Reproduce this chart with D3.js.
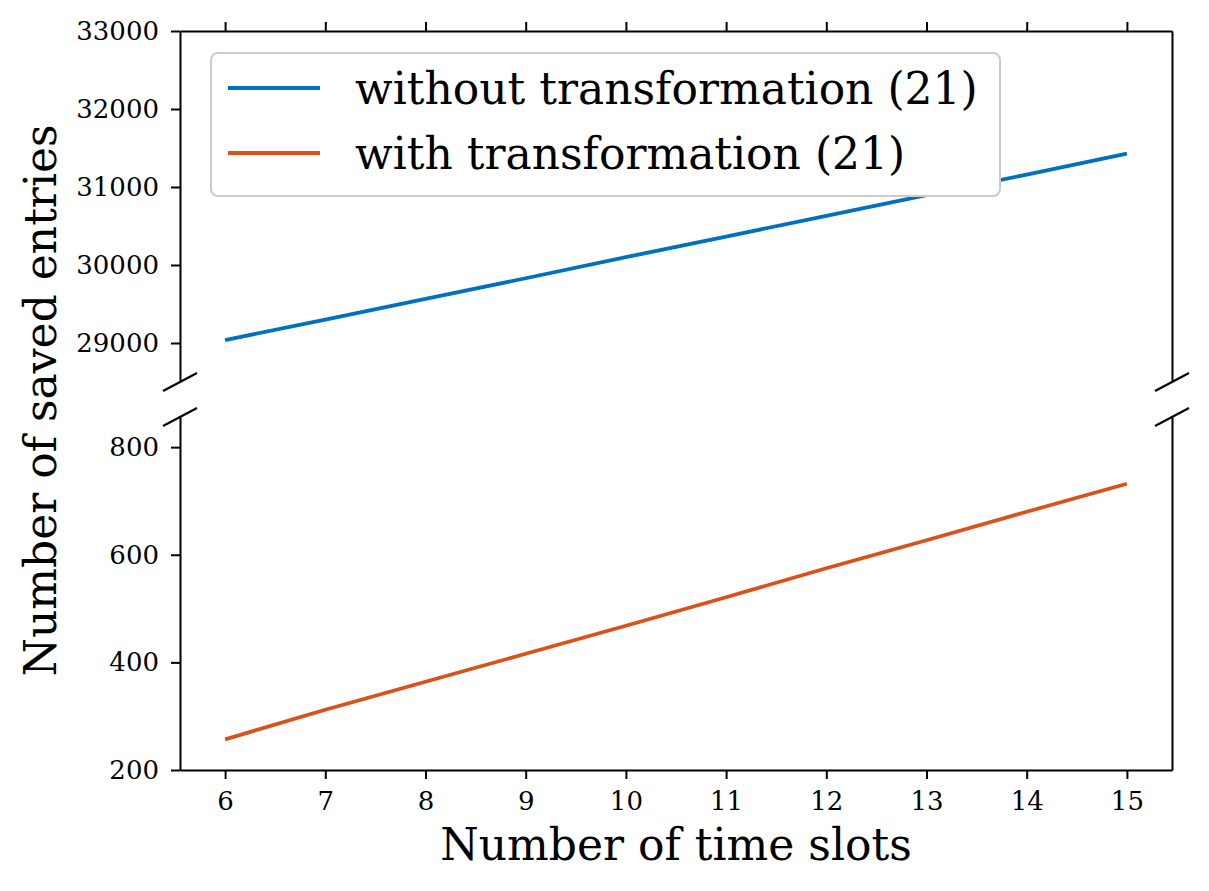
<!DOCTYPE html>
<html>
<head>
<meta charset="utf-8">
<title>Saved entries</title>
<script src="https://cdnjs.cloudflare.com/ajax/libs/d3/7.8.5/d3.min.js"></script>
<style>
  body { margin: 0; background: #fff; }
  text { font-family: "DejaVu Serif", serif; }
</style>
</head>
<body>
<script>
// data
var timeSlots = [6, 7, 8, 9, 10, 11, 12, 13, 14, 15];
var withoutTransform = [29038, 29300, 29565, 29830, 30100, 30365, 30630, 30895, 31160, 31428];
var withTransform = [257, 312, 364, 416, 468, 521, 575, 627, 680, 732];
var seriesNames = ["without transformation (21)", "with transformation (21)"];
var seriesColors = ["#0072BD", "#D95319"];
var topTicks = [29000, 30000, 31000, 32000, 33000];
var bottomTicks = [200, 400, 600, 800];

var W = 1209, H = 891;
var left = 180, right = 1172;
var topPanel = { y0: 31, y1: 382 };
var botPanel = { y0: 417, y1: 770 };

var svg = d3.select("body").append("svg")
    .attr("width", W)
    .attr("height", H);

var x = d3.scaleLinear().domain([5.55, 15.45]).range([left, right]);
var yTop = d3.scaleLinear().domain([28500, 33000]).range([topPanel.y1, topPanel.y0]);
var yBot = d3.scaleLinear().domain([200, 856]).range([botPanel.y1, botPanel.y0]);

function styleAxis(g) {
    g.select(".domain").attr("stroke", "#000").attr("stroke-width", 2);
    g.selectAll(".tick line").attr("stroke", "#000").attr("stroke-width", 2);
    g.selectAll(".tick text").attr("font-family", "DejaVu Serif").attr("font-size", 26).attr("fill", "#000");
}

// top panel axes
svg.append("g")
    .attr("transform", "translate(" + left + ",0)")
    .call(d3.axisLeft(yTop).tickValues(topTicks).tickFormat(d3.format("d"))
        .tickSize(9).tickSizeOuter(0).tickPadding(12))
    .call(styleAxis);
svg.append("g")
    .attr("transform", "translate(" + right + ",0)")
    .call(d3.axisRight(yTop).tickValues([]).tickSizeOuter(0))
    .call(styleAxis);
svg.append("g")
    .attr("transform", "translate(0," + topPanel.y0 + ")")
    .call(d3.axisTop(x).tickValues(timeSlots).tickSize(9).tickSizeOuter(0).tickFormat(""))
    .call(styleAxis);

// bottom panel axes
svg.append("g")
    .attr("transform", "translate(" + left + ",0)")
    .call(d3.axisLeft(yBot).tickValues(bottomTicks).tickFormat(d3.format("d"))
        .tickSize(9).tickSizeOuter(0).tickPadding(12))
    .call(styleAxis);
svg.append("g")
    .attr("transform", "translate(" + right + ",0)")
    .call(d3.axisRight(yBot).tickValues([]).tickSizeOuter(0))
    .call(styleAxis);
svg.append("g")
    .attr("transform", "translate(0," + botPanel.y1 + ")")
    .call(d3.axisBottom(x).tickValues(timeSlots).tickSize(9).tickSizeOuter(0).tickPadding(13))
    .call(styleAxis);

// break marks
var breaks = [[left, topPanel.y1], [right, topPanel.y1], [left, botPanel.y0], [right, botPanel.y0]];
svg.selectAll("line.brk")
    .data(breaks)
    .join("line")
    .attr("class", "brk")
    .attr("x1", function(d) { return d[0] - 17; })
    .attr("y1", function(d) { return d[1] + 9; })
    .attr("x2", function(d) { return d[0] + 17; })
    .attr("y2", function(d) { return d[1] - 9; })
    .attr("stroke", "#000")
    .attr("stroke-width", 2.2);

// lines
var lineTop = d3.line()
    .x(function(d, i) { return x(timeSlots[i]); })
    .y(function(d) { return yTop(d); });
var lineBot = d3.line()
    .x(function(d, i) { return x(timeSlots[i]); })
    .y(function(d) { return yBot(d); });

svg.append("path")
    .attr("d", lineTop(withoutTransform))
    .attr("fill", "none")
    .attr("stroke", seriesColors[0])
    .attr("stroke-width", 3.8);
svg.append("path")
    .attr("d", lineBot(withTransform))
    .attr("fill", "none")
    .attr("stroke", seriesColors[1])
    .attr("stroke-width", 3.8);

// legend
var leg = svg.append("g");
leg.append("rect")
    .attr("x", 211).attr("y", 53)
    .attr("width", 789).attr("height", 143)
    .attr("rx", 7)
    .attr("fill", "#fff")
    .attr("stroke", "#cccccc").attr("stroke-width", 2);
var items = leg.selectAll("g.item")
    .data(seriesNames)
    .join("g")
    .attr("class", "item")
    .attr("transform", function(d, i) { return "translate(0," + (88 + i * 65) + ")"; });
items.append("line")
    .attr("x1", 228).attr("x2", 320)
    .attr("stroke", function(d, i) { return seriesColors[i]; })
    .attr("stroke-width", 3.8);
items.append("text")
    .attr("x", 355).attr("dy", "0.36em")
    .attr("font-size", 44)
    .text(function(d) { return d; });

// axis labels
svg.append("text")
    .attr("x", (left + right) / 2)
    .attr("y", 860)
    .attr("text-anchor", "middle")
    .attr("font-size", 44)
    .text("Number of time slots");
svg.append("text")
    .attr("transform", "translate(56," + ((topPanel.y0 + botPanel.y1) / 2) + ") rotate(-90)")
    .attr("text-anchor", "middle")
    .attr("font-size", 44)
    .text("Number of saved entries");
</script>
</body>
</html>
